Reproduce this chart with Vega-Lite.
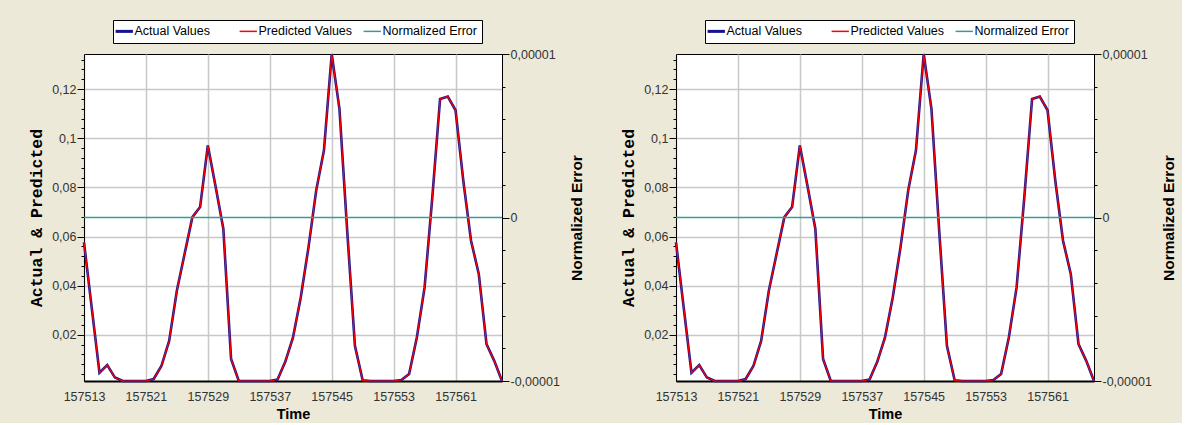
{
  "$schema": "https://vega.github.io/schema/vega-lite/v6.json",
  "background": "#ECE9D8",
  "padding": {"left": 27, "top": 19, "right": 5, "bottom": 2},
  "datasets": {
    "d": [
      {"time": 157513, "actual": 0.0576, "predicted": 0.0576, "error": 0},
      {"time": 157514, "actual": 0.031, "predicted": 0.031, "error": 0},
      {"time": 157515, "actual": 0.0046, "predicted": 0.0046, "error": 0},
      {"time": 157516, "actual": 0.0077, "predicted": 0.0077, "error": 0},
      {"time": 157517, "actual": 0.0026, "predicted": 0.0026, "error": 0},
      {"time": 157518, "actual": 0.0012, "predicted": 0.0012, "error": 0},
      {"time": 157519, "actual": 0.0012, "predicted": 0.0012, "error": 0},
      {"time": 157520, "actual": 0.0012, "predicted": 0.0012, "error": 0},
      {"time": 157521, "actual": 0.0012, "predicted": 0.0012, "error": 0},
      {"time": 157522, "actual": 0.002, "predicted": 0.002, "error": 0},
      {"time": 157523, "actual": 0.0073, "predicted": 0.0073, "error": 0},
      {"time": 157524, "actual": 0.0175, "predicted": 0.0175, "error": 0},
      {"time": 157525, "actual": 0.038, "predicted": 0.038, "error": 0},
      {"time": 157526, "actual": 0.053, "predicted": 0.053, "error": 0},
      {"time": 157527, "actual": 0.0679, "predicted": 0.0679, "error": 0},
      {"time": 157528, "actual": 0.072, "predicted": 0.072, "error": 0},
      {"time": 157529, "actual": 0.0971, "predicted": 0.0971, "error": 0},
      {"time": 157530, "actual": 0.0804, "predicted": 0.0804, "error": 0},
      {"time": 157531, "actual": 0.0632, "predicted": 0.0632, "error": 0},
      {"time": 157532, "actual": 0.0102, "predicted": 0.0102, "error": 0},
      {"time": 157533, "actual": 0.0012, "predicted": 0.0012, "error": 0},
      {"time": 157534, "actual": 0.0012, "predicted": 0.0012, "error": 0},
      {"time": 157535, "actual": 0.0012, "predicted": 0.0012, "error": 0},
      {"time": 157536, "actual": 0.0012, "predicted": 0.0012, "error": 0},
      {"time": 157537, "actual": 0.0012, "predicted": 0.0012, "error": 0},
      {"time": 157538, "actual": 0.0018, "predicted": 0.0018, "error": 0},
      {"time": 157539, "actual": 0.009, "predicted": 0.009, "error": 0},
      {"time": 157540, "actual": 0.0189, "predicted": 0.0189, "error": 0},
      {"time": 157541, "actual": 0.0352, "predicted": 0.0352, "error": 0},
      {"time": 157542, "actual": 0.0556, "predicted": 0.0556, "error": 0},
      {"time": 157543, "actual": 0.0788, "predicted": 0.0788, "error": 0},
      {"time": 157544, "actual": 0.0951, "predicted": 0.0951, "error": 0},
      {"time": 157545, "actual": 0.1343, "predicted": 0.1343, "error": 0},
      {"time": 157546, "actual": 0.112, "predicted": 0.112, "error": 0},
      {"time": 157547, "actual": 0.0625, "predicted": 0.0625, "error": 0},
      {"time": 157548, "actual": 0.0155, "predicted": 0.0155, "error": 0},
      {"time": 157549, "actual": 0.0015, "predicted": 0.0015, "error": 0},
      {"time": 157550, "actual": 0.0012, "predicted": 0.0012, "error": 0},
      {"time": 157551, "actual": 0.0012, "predicted": 0.0012, "error": 0},
      {"time": 157552, "actual": 0.0012, "predicted": 0.0012, "error": 0},
      {"time": 157553, "actual": 0.0012, "predicted": 0.0012, "error": 0},
      {"time": 157554, "actual": 0.0016, "predicted": 0.0016, "error": 0},
      {"time": 157555, "actual": 0.004, "predicted": 0.004, "error": 0},
      {"time": 157556, "actual": 0.0189, "predicted": 0.0189, "error": 0},
      {"time": 157557, "actual": 0.0393, "predicted": 0.0393, "error": 0},
      {"time": 157558, "actual": 0.076, "predicted": 0.076, "error": 0},
      {"time": 157559, "actual": 0.116, "predicted": 0.116, "error": 0},
      {"time": 157560, "actual": 0.117, "predicted": 0.117, "error": 0},
      {"time": 157561, "actual": 0.1114, "predicted": 0.1114, "error": 0},
      {"time": 157562, "actual": 0.0828, "predicted": 0.0828, "error": 0},
      {"time": 157563, "actual": 0.0583, "predicted": 0.0583, "error": 0},
      {"time": 157564, "actual": 0.0448, "predicted": 0.0448, "error": 0},
      {"time": 157565, "actual": 0.0162, "predicted": 0.0162, "error": 0},
      {"time": 157566, "actual": 0.0094, "predicted": 0.0094, "error": 0},
      {"time": 157567, "actual": 0.0012, "predicted": 0.0012, "error": 0}
    ]
  },
  "data": {"name": "d"},
  "bounds": "flush",
  "spacing": 174,
  "resolve": {"scale": {"color": "independent"}, "legend": {"color": "independent"}},
  "hconcat": [
    {
      "width": 418,
      "height": 327,
      "encoding": {
        "x": {
          "field": "time", "type": "quantitative",
          "scale": {"domain": [157513, 157567], "nice": false, "zero": false},
          "axis": {
            "values": [157513, 157521, 157529, 157537, 157545, 157553, 157561],
            "format": "d", "grid": true, "ticks": false, "tickSize": 0,
            "labelPadding": 9, "labelFlush": false, "labelOverlap": false,
            "domainWidth": 2, "title": "Time", "titleFontSize": 14.5, "titleY": 33, "titleBaseline": "middle"
          }
        }
      },
      "layer": [
        {
          "layer": [
            {
              "mark": {"type": "line", "strokeWidth": 2.6, "color": "#14148c"},
              "encoding": {
                "y": {
                  "field": "actual", "type": "quantitative",
                  "scale": {"domain": [0.0012, 0.1343], "nice": false, "zero": false},
                  "axis": {
                    "orient": "left",
                    "values": [0.02, 0.04, 0.06, 0.08, 0.1, 0.12],
                    "labelExpr": "replace(format(datum.value, '.2~f'), '.', ',')",
                    "grid": true, "tickSize": 7, "labelPadding": 1,
                    "title": "Actual & Predicted", "titleFont": "Liberation Mono",
                    "titleFontSize": 16.5, "titleAngle": 270, "titleX": -48, "titleBaseline": "middle"
                  }
                },
                "color": {
                  "datum": "Actual Values", "type": "nominal",
                  "scale": {"domain": ["Actual Values", "Predicted Values", "Normalized Error"], "range": ["#14148c", "#ff0000", "#3a9a9a"]},
                  "legend": {
                    "orient": "none", "legendX": 29, "legendY": -34, "direction": "horizontal",
                    "title": null, "fillColor": "#ffffff", "strokeColor": "#000000", "padding": 5,
                    "symbolType": "stroke", "symbolSize": 300, "labelFont": "Liberation Sans",
                    "labelFontSize": 12.5, "labelColor": "#000000", "columnPadding": 7,
                    "labelOffset": 4, "gridAlign": "all",
                    "encode": {"symbols": {"update": {"strokeWidth": {"signal": "datum.value === 'Actual Values' ? 3 : 1.5"}}}}
                  }
                }
              }
            },
            {
              "mark": {"type": "line", "strokeWidth": 1.2, "color": "#ff0000"},
              "encoding": {
                "y": {
                  "field": "predicted", "type": "quantitative",
                  "axis": {
                    "orient": "left",
                    "values": [0.004, 0.008, 0.012, 0.016, 0.024, 0.028, 0.032, 0.036, 0.044, 0.048, 0.052, 0.056, 0.064, 0.068, 0.072, 0.076, 0.084, 0.088, 0.092, 0.096, 0.104, 0.108, 0.112, 0.116, 0.124, 0.128, 0.132],
                    "labels": false, "grid": false, "domain": false, "tickSize": 3, "title": null
                  }
                },
                "color": {"datum": "Predicted Values", "type": "nominal"}
              }
            }
          ],
          "resolve": {"axis": {"y": "independent"}}
        },
        {
          "layer": [
            {
              "mark": {"type": "line", "strokeWidth": 1.2, "color": "#3a9a9a"},
              "encoding": {
                "y": {
                  "field": "error", "type": "quantitative",
                  "axis": {
                    "orient": "right",
                    "values": [-0.000008, -0.000006, -0.000004, -0.000002, 0.000002, 0.000004, 0.000006, 0.000008],
                    "labels": false, "grid": false, "domain": false, "tickSize": 3, "title": null
                  }
                },
                "color": {"datum": "Normalized Error", "type": "nominal"}
              }
            },
            {
              "mark": {"type": "line", "strokeWidth": 1.4, "color": "#3a9a9a"},
              "encoding": {
                "y": {
                  "field": "error", "type": "quantitative",
                  "scale": {"domain": [-0.00001, 0.00001], "nice": false, "zero": false},
                  "axis": {
                    "orient": "right",
                    "values": [-0.00001, 0, 0.00001],
                    "labelExpr": "replace(replace(format(datum.value, '.5~f'), '.', ','), '−', '-')",
                    "grid": false, "tickSize": 7, "labelPadding": 1, "labelOverlap": false,
                    "title": "Normalized Error", "titleFontSize": 15.5, "titleAngle": 270, "titleX": 74, "titleBaseline": "middle"
                  }
                },
                "color": {"datum": "Normalized Error", "type": "nominal"}
              }
            }
          ],
          "resolve": {"axis": {"y": "independent"}}
        }
      ],
      "resolve": {"scale": {"y": "independent"}}
    },
    {
      "width": 418,
      "height": 327,
      "encoding": {
        "x": {
          "field": "time", "type": "quantitative",
          "scale": {"domain": [157513, 157567], "nice": false, "zero": false},
          "axis": {
            "values": [157513, 157521, 157529, 157537, 157545, 157553, 157561],
            "format": "d", "grid": true, "ticks": false, "tickSize": 0,
            "labelPadding": 9, "labelFlush": false, "labelOverlap": false,
            "domainWidth": 2, "title": "Time", "titleFontSize": 14.5, "titleY": 33, "titleBaseline": "middle"
          }
        }
      },
      "layer": [
        {
          "layer": [
            {
              "mark": {"type": "line", "strokeWidth": 2.6, "color": "#14148c"},
              "encoding": {
                "y": {
                  "field": "actual", "type": "quantitative",
                  "scale": {"domain": [0.0012, 0.1343], "nice": false, "zero": false},
                  "axis": {
                    "orient": "left",
                    "values": [0.02, 0.04, 0.06, 0.08, 0.1, 0.12],
                    "labelExpr": "replace(format(datum.value, '.2~f'), '.', ',')",
                    "grid": true, "tickSize": 7, "labelPadding": 1,
                    "title": "Actual & Predicted", "titleFont": "Liberation Mono",
                    "titleFontSize": 16.5, "titleAngle": 270, "titleX": -48, "titleBaseline": "middle"
                  }
                },
                "color": {
                  "datum": "Actual Values", "type": "nominal",
                  "scale": {"domain": ["Actual Values", "Predicted Values", "Normalized Error"], "range": ["#14148c", "#ff0000", "#3a9a9a"]},
                  "legend": {
                    "orient": "none", "legendX": 29, "legendY": -34, "direction": "horizontal",
                    "title": null, "fillColor": "#ffffff", "strokeColor": "#000000", "padding": 5,
                    "symbolType": "stroke", "symbolSize": 300, "labelFont": "Liberation Sans",
                    "labelFontSize": 12.5, "labelColor": "#000000", "columnPadding": 7,
                    "labelOffset": 4, "gridAlign": "all",
                    "encode": {"symbols": {"update": {"strokeWidth": {"signal": "datum.value === 'Actual Values' ? 3 : 1.5"}}}}
                  }
                }
              }
            },
            {
              "mark": {"type": "line", "strokeWidth": 1.2, "color": "#ff0000"},
              "encoding": {
                "y": {
                  "field": "predicted", "type": "quantitative",
                  "axis": {
                    "orient": "left",
                    "values": [0.004, 0.008, 0.012, 0.016, 0.024, 0.028, 0.032, 0.036, 0.044, 0.048, 0.052, 0.056, 0.064, 0.068, 0.072, 0.076, 0.084, 0.088, 0.092, 0.096, 0.104, 0.108, 0.112, 0.116, 0.124, 0.128, 0.132],
                    "labels": false, "grid": false, "domain": false, "tickSize": 3, "title": null
                  }
                },
                "color": {"datum": "Predicted Values", "type": "nominal"}
              }
            }
          ],
          "resolve": {"axis": {"y": "independent"}}
        },
        {
          "layer": [
            {
              "mark": {"type": "line", "strokeWidth": 1.2, "color": "#3a9a9a"},
              "encoding": {
                "y": {
                  "field": "error", "type": "quantitative",
                  "axis": {
                    "orient": "right",
                    "values": [-0.000008, -0.000006, -0.000004, -0.000002, 0.000002, 0.000004, 0.000006, 0.000008],
                    "labels": false, "grid": false, "domain": false, "tickSize": 3, "title": null
                  }
                },
                "color": {"datum": "Normalized Error", "type": "nominal"}
              }
            },
            {
              "mark": {"type": "line", "strokeWidth": 1.4, "color": "#3a9a9a"},
              "encoding": {
                "y": {
                  "field": "error", "type": "quantitative",
                  "scale": {"domain": [-0.00001, 0.00001], "nice": false, "zero": false},
                  "axis": {
                    "orient": "right",
                    "values": [-0.00001, 0, 0.00001],
                    "labelExpr": "replace(replace(format(datum.value, '.5~f'), '.', ','), '−', '-')",
                    "grid": false, "tickSize": 7, "labelPadding": 1, "labelOverlap": false,
                    "title": "Normalized Error", "titleFontSize": 15.5, "titleAngle": 270, "titleX": 74, "titleBaseline": "middle"
                  }
                },
                "color": {"datum": "Normalized Error", "type": "nominal"}
              }
            }
          ],
          "resolve": {"axis": {"y": "independent"}}
        }
      ],
      "resolve": {"scale": {"y": "independent"}}
    }
  ],
  "config": {
    "view": {"stroke": "#000000", "strokeWidth": 1, "fill": "#ffffff"},
    "axis": {
      "labelFont": "Liberation Sans", "labelFontSize": 12.5, "labelColor": "#333333",
      "titleFont": "Liberation Sans", "titleFontSize": 14, "titleFontWeight": "bold", "titleColor": "#000000",
      "gridColor": "#c8c8c8", "gridWidth": 1.5, "domainColor": "#000000", "tickColor": "#000000"
    }
  }
}
